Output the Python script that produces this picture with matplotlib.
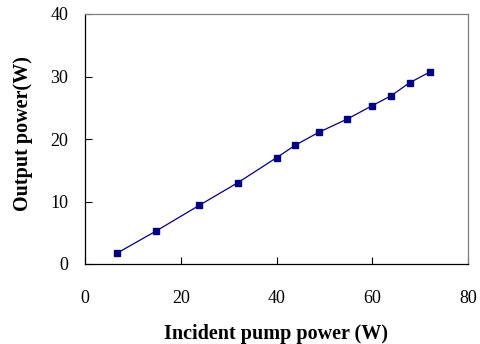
import matplotlib
matplotlib.use("Agg")
import matplotlib.pyplot as plt

pump = [6.6, 14.9, 23.9, 31.9, 40.0, 43.9, 48.9, 54.8, 59.9, 63.9, 67.8, 72.0]
output = [1.7, 5.3, 9.4, 13.0, 17.0, 19.0, 21.1, 23.2, 25.3, 26.9, 29.0, 30.7]
xticks = [0, 20, 40, 60, 80]
yticks = [0, 10, 20, 30, 40]

plt.rcParams['font.family'] = ['Liberation Serif', 'DejaVu Serif']
fig = plt.figure(figsize=(4.81, 3.44), dpi=100)
ax = fig.add_axes([85/481, 80/344, 383/481, 250/344])
ax.plot(pump, output, color='#000080', lw=0.9, marker='s', markersize=4.3,
        markerfacecolor='#000080', markeredgecolor='#000080')
ax.set_xlim(0, 80)
ax.set_ylim(0, 40)
ax.set_xticks(xticks)
ax.set_yticks(yticks)
ax.tick_params(direction='in', length=5, width=0.8, labelsize=13, top=False, right=False)
ax.tick_params(axis='x', pad=19)
ax.tick_params(axis='y', pad=12)
for s in ['top', 'right']:
    ax.spines[s].set_color('#808080')
for s in ax.spines.values():
    s.set_linewidth(0.9)
fig.text(276/481, 5/344, 'Incident pump power (W)', fontsize=14.5,
         fontweight='bold', ha='center', va='baseline')
fig.text(23/481, (344-134)/344, 'Output power(W)', fontsize=14.5,
         fontweight='bold', ha='center', va='center', rotation=90)
fig.savefig('out.png', dpi=100)
